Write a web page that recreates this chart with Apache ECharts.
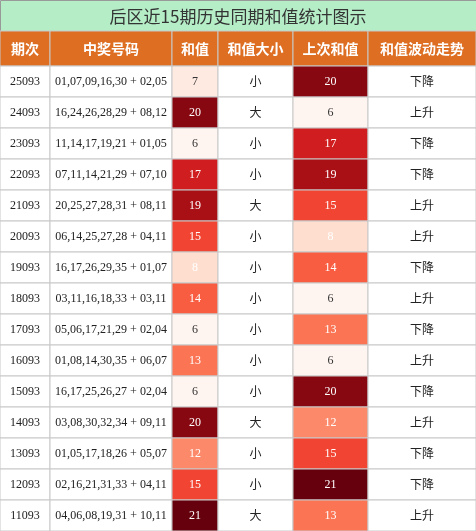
<!DOCTYPE html>
<html><head><meta charset="utf-8">
<script src="https://cdn.jsdelivr.net/npm/echarts@6/dist/echarts.min.js"></script>
<style>html,body{margin:0;padding:0;background:#fff}#c{width:476px;height:531px}</style>
</head><body><div id="c"></div>
<script>
const title = '后区近15期历史同期和值统计图示';
const headers = ['期次','中奖号码','和值','和值大小','上次和值','和值波动走势'];
const periods = ['25093','24093','23093','22093','21093','20093','19093','18093','17093','16093','15093','14093','13093','12093','11093'];
const numbers = ['01,07,09,16,30 + 02,05','16,24,26,28,29 + 08,12','11,14,17,19,21 + 01,05','07,11,14,21,29 + 07,10','20,25,27,28,31 + 08,11','06,14,25,27,28 + 04,11','16,17,26,29,35 + 01,07','03,11,16,18,33 + 03,11','05,06,17,21,29 + 02,04','01,08,14,30,35 + 06,07','16,17,25,26,27 + 02,04','03,08,30,32,34 + 09,11','01,05,17,18,26 + 05,07','02,16,21,31,33 + 04,11','04,06,08,19,31 + 10,11'];
const sums = [7,20,6,17,19,15,8,14,6,13,6,20,12,15,21];
const sizes = ['小','大','小','小','大','小','小','小','小','小','小','大','小','小','大'];
const prevSums = [20,6,17,19,15,8,14,6,13,6,20,12,15,21,13];
const trends = ['下降','上升','下降','下降','上升','上升','下降','上升','下降','上升','下降','上升','下降','下降','上升'];

const colEdges = [0,50,172,218,293,368,476];
const HEAD = -1.13;
const reds = ['#fff5f0','#fee0d2','#fcbba1','#fc9272','#fb6a4a','#ef3b2c','#cb181d','#a50f15','#67000d'];
function hex(c){return [1,3,5].map(i=>parseInt(c.substr(i,2),16));}
function redColor(v){
  let t=(v-6)/(21-6); t=Math.max(0,Math.min(1,t));
  const p=t*(reds.length-1), i=Math.min(Math.floor(p),reds.length-2), f=p-i;
  const a=hex(reds[i]), b=hex(reds[i+1]);
  return 'rgb('+a.map((x,k)=>Math.round(x+(b[k]-x)*f)).join(',')+')';
}
const cells=[];
headers.forEach((h,c)=>cells.push([c,HEAD,h,'head']));
periods.forEach((p,r)=>{
  const row=[p,numbers[r],sums[r],sizes[r],prevSums[r],trends[r]];
  row.forEach((v,c)=>cells.push([c,r,String(v),(c===2||c===4)?'heat':'plain',v]));
});
const chart=echarts.init(document.getElementById('c'));
chart.setOption({
  animation:false,
  title:{text:title,left:'center',top:3,textStyle:{fontSize:17,fontWeight:'normal',color:'#333',fontFamily:'Noto Sans CJK SC'}},
  graphic:[{type:'rect',left:0,top:0,shape:{width:476,height:31},style:{fill:'#b5edc7',stroke:'#999',lineWidth:1},z:-1}],
  grid:{left:0,right:0,top:31,bottom:0},
  xAxis:{type:'value',min:0,max:476,show:false},
  yAxis:{type:'value',min:HEAD,max:15,inverse:true,show:false},
  series:[{type:'custom',data:cells,renderItem:(params,api)=>{
    const d=cells[params.dataIndex];
    const c=d[0], r=d[1];
    const p0=api.coord([colEdges[c], r]);
    const p1=api.coord([colEdges[c+1], r===HEAD?0:r+1]);
    let fill='#fff', tc='#222', font='12px "Liberation Serif", serif', fw='normal';
    if(d[3]==='head'){fill='#dd6e22';tc='#fff';font='bold 14px "Noto Sans CJK SC", sans-serif';}
    else if(d[3]==='heat'){fill=redColor(d[4]);tc=d[4]>=8?'#fff':'#333';font='12px "Liberation Serif", serif';}
    if(d[3]!=='head' && /[\u4e00-\u9fff]/.test(d[2])) font='12px "Noto Sans CJK SC", sans-serif';
    return {type:'group',children:[
      {type:'rect',shape:{x:p0[0],y:p0[1],width:p1[0]-p0[0],height:p1[1]-p0[1]},style:{fill:fill,stroke:'#c8c8c8',lineWidth:1}},
      {type:'text',style:{text:d[2],x:(p0[0]+p1[0])/2,y:(p0[1]+p1[1])/2,align:'center',verticalAlign:'middle',fill:tc,font:font}}
    ]};
  }}]
});
</script></body></html>
